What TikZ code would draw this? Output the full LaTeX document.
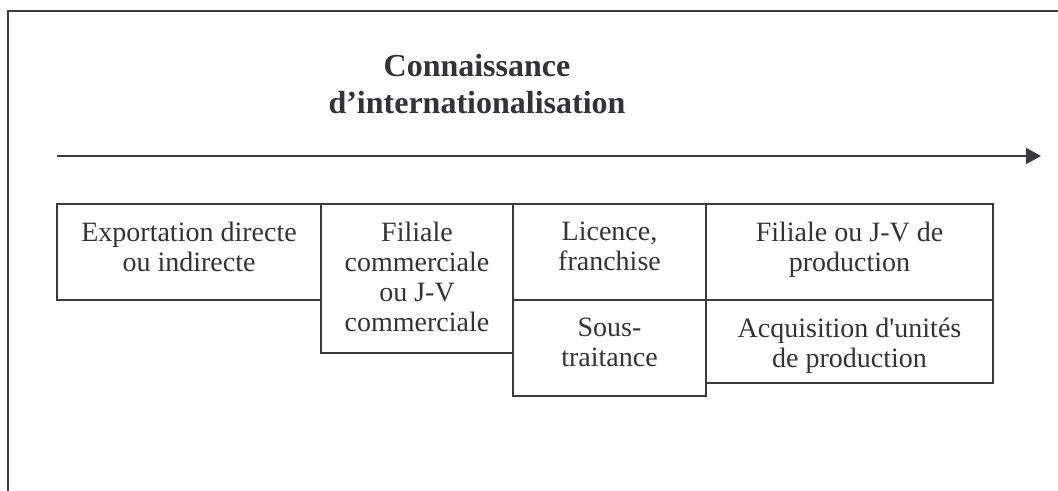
\documentclass[tikz,border=0pt]{standalone}
\usepackage{fontspec}
\setmainfont{Liberation Serif}
\usetikzlibrary{arrows.meta,positioning}
\definecolor{ink}{HTML}{3A3A3C}
\definecolor{txt}{HTML}{333335}

\tikzset{
  mode/.style={draw=ink, line width=1.9bp, anchor=north west, inner sep=0pt,
    outer sep=0pt, minimum width=#1},
  modelbl/.style={anchor=north, inner sep=0pt, yshift=-18bp, align=center,
    text=txt, font=\fontsize{28bp}{30bp}\selectfont}
}

\begin{document}
\begin{tikzpicture}[x=1bp, y=-1bp]
    \useasboundingbox (0,0) rectangle (1058,491);
    \draw[ink, line width=2.6bp] (8,491) -- (8,11) -- (1058,11);
    \node[align=center, text=txt, font=\fontsize{32bp}{37bp}\selectfont\bfseries] (titre) at (477,84)
      {Connaissance\\d’internationalisation};
    \coordinate (debut) at (57,156);
    \coordinate (fin) at (1041,156);
    \draw[ink, line width=2.2bp, -{Triangle[length=15bp, width=16bp]}] (debut) -- (fin);
    \node[mode=264bp, minimum height=96bp,
      label={[modelbl]north:{Exportation directe\\ou indirecte}}] (export) at (57,204) {};
    \node[mode=192bp, minimum height=149bp,
      label={[modelbl]north:{Filiale\\commerciale\\ou J-V\\commerciale}}] (filcom) at (export.north east) {};
    \node[mode=193bp, minimum height=96bp,
      label={[modelbl]north:{Licence,\\franchise}}] (licence) at (filcom.north east) {};
    \node[mode=193bp, minimum height=96bp,
      label={[modelbl]north:{Sous-\\traitance}}] (soustrait) at (licence.south west) {};
    \node[mode=287bp, minimum height=96bp,
      label={[modelbl]north:{Filiale ou J-V de\\production}}] (filprod) at (licence.north east) {};
    \node[mode=287bp, minimum height=83bp,
      label={[modelbl]north:{Acquisition d\textquotesingle unités\\de production}}] (acquis) at (filprod.south west) {};
\end{tikzpicture}
\end{document}
